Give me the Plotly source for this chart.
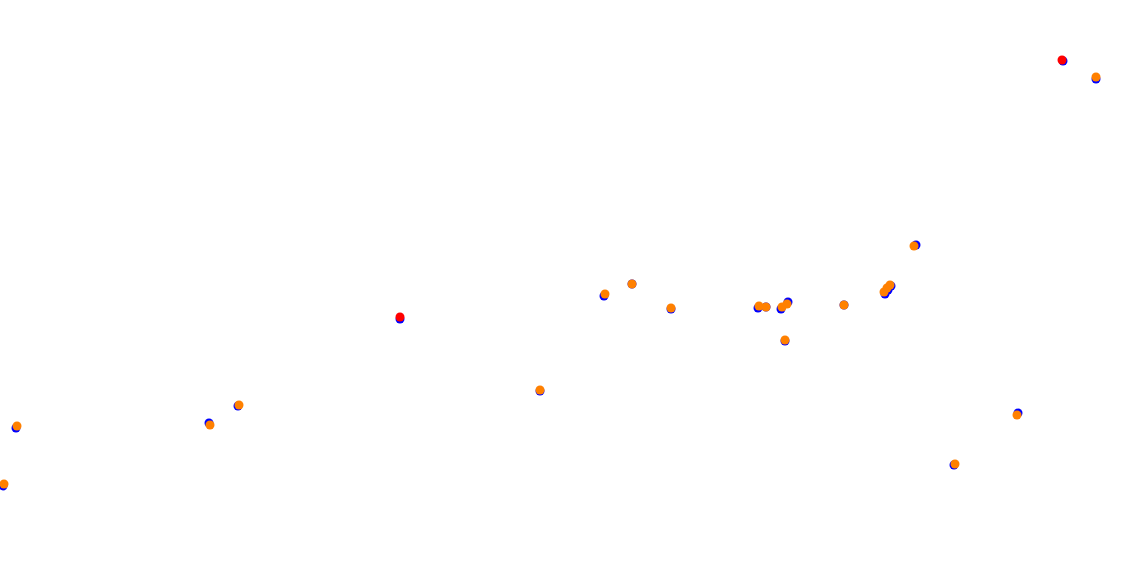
import plotly.graph_objects as go

# Blue series (x, y in chart units)
blue_x = [16, 3, 209, 238, 400, 540, 604, 632, 671, 758, 766, 781, 788, 785, 844, 885, 888, 891, 916, 954, 1018, 1063, 1096]
blue_y = [428, 486, 423, 406, 319, 391, 296, 284, 309, 308, 307, 309, 302, 341, 305, 294, 290, 286, 245, 465, 413, 61, 79]

# Orange series
orange_x = [17, 4, 210, 239, 540, 605, 632, 671, 759, 766, 782, 787, 785, 844, 884, 887, 890, 914, 955, 1017, 1096]
orange_y = [426, 484, 425, 405, 390, 294, 284, 308, 306, 307, 307, 304, 340, 305, 292, 288, 285, 246, 464, 415, 77]

# Red series
red_x = [400, 1062]
red_y = [317, 60]

fig = go.Figure()
fig.add_trace(go.Scatter(x=blue_x, y=blue_y, mode="markers", cliponaxis=False,
                         marker=dict(color="#0000ff", size=9, line=dict(width=0)), showlegend=False))
fig.add_trace(go.Scatter(x=orange_x, y=orange_y, mode="markers", cliponaxis=False,
                         marker=dict(color="#ff8000", size=9, line=dict(width=0)), showlegend=False))
fig.add_trace(go.Scatter(x=red_x, y=red_y, mode="markers", cliponaxis=False,
                         marker=dict(color="#ff0000", size=9, line=dict(width=0)), showlegend=False))

fig.update_layout(
    width=1122, height=574,
    margin=dict(l=0, r=0, t=0, b=0),
    paper_bgcolor="white", plot_bgcolor="white",
    xaxis=dict(range=[0, 1122], visible=False, fixedrange=True),
    yaxis=dict(range=[574, 0], visible=False, fixedrange=True),
)
fig.write_html("out.html", config={"displayModeBar": False},
               post_script="document.body.style.margin='0px';")
